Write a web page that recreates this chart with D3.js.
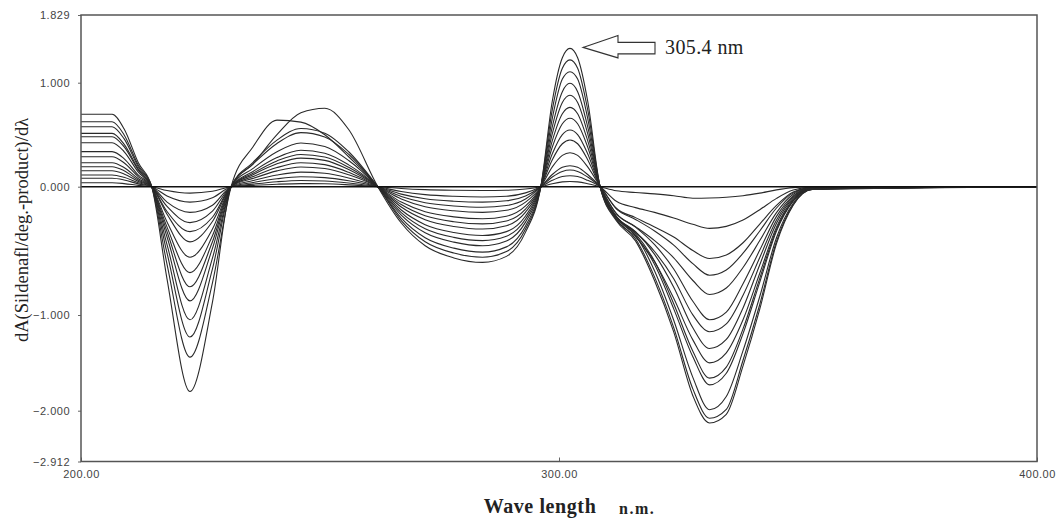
<!DOCTYPE html>
<meta charset="utf-8">
<style>
    html, body { margin: 0; padding: 0; background: #fff; }
    .tick text { font-family: "Liberation Sans", Arial, sans-serif; font-size: 11px; fill: #444; letter-spacing: 0.5px; }
</style>
<script src="https://d3js.org/d3.v7.min.js"></script>

<div id="chart"></div>

<script>
    // wavelength grid (nm) shared by all derivative curves
    const wavelength = [200, 206.5, 209, 212, 214.8, 218, 222.8, 227.5, 231.4, 236, 241, 246, 251, 256, 262.1,
        267, 272, 278, 284, 289, 293, 296.2, 298.6, 300.7, 302.3, 303.9, 306, 308.6,
        312, 316, 320, 324, 328, 331.5, 335, 338.5, 342, 345.5, 349, 353, 400];

    // dA/dλ, one array per curve (smallest to largest)
    const c01 = [0.038,0.038,0.030,0.013,0, -0.03,-0.05,-0.036, 0, 0.013,0.024,0.03,0.028,0.018, 0, -0.014,-0.023,-0.028,-0.03,-0.028,-0.018, 0, 0.029,0.046,0.05,0.046,0.029, 0, -0.032,-0.045,-0.056,-0.07,-0.09,-0.088,-0.082,-0.07,-0.05,-0.025,-0.007,0, 0];
    const c02 = [0.081,0.081,0.065,0.027,0, -0.072,-0.12,-0.086, 0, 0.025,0.048,0.06,0.055,0.036, 0, -0.038,-0.062,-0.075,-0.08,-0.074,-0.048, 0, 0.061,0.098,0.106,0.098,0.061, 0, -0.114,-0.163,-0.2,-0.244,-0.293,-0.325,-0.309,-0.26,-0.179,-0.091,-0.026,-0.003, 0];
    const c03 = [0.113,0.113,0.09,0.037,0, -0.12,-0.2,-0.144, 0, 0.04,0.076,0.095,0.087,0.057, 0, -0.058,-0.094,-0.113,-0.12,-0.11,-0.072, 0, 0.093,0.147,0.16,0.147,0.093, 0, -0.168,-0.241,-0.314,-0.392,-0.498,-0.56,-0.532,-0.437,-0.291,-0.146,-0.042,-0.006, 0];
    const c04 = [0.154,0.154,0.123,0.051,0, -0.154,-0.28,-0.19, 0, 0.059,0.112,0.14,0.129,0.084, 0, -0.077,-0.125,-0.15,-0.16,-0.147,-0.096, 0, 0.117,0.186,0.202,0.186,0.117, 0, -0.173,-0.255,-0.345,-0.455,-0.6,-0.69,-0.649,-0.518,-0.345,-0.166,-0.048,-0.007, 0];
    const c05 = [0.192,0.192,0.154,0.063,0, -0.193,-0.35,-0.238, 0, 0.08,0.152,0.19,0.175,0.114, 0, -0.096,-0.156,-0.188,-0.2,-0.184,-0.12, 0, 0.19,0.301,0.327,0.301,0.19, 0, -0.21,-0.311,-0.42,-0.554,-0.731,-0.84,-0.79,-0.63,-0.42,-0.202,-0.059,-0.008, 0];
    const c06 = [0.231,0.231,0.185,0.076,0, -0.215,-0.43,-0.271, 0, 0.097,0.184,0.23,0.212,0.138, 0, -0.12,-0.195,-0.235,-0.25,-0.23,-0.15, 0, 0.26,0.413,0.449,0.413,0.26, 0, -0.21,-0.315,-0.452,-0.641,-0.893,-1.05,-0.977,-0.756,-0.494,-0.231,-0.071,-0.011, 0];
    const c07 = [0.288,0.288,0.23,0.095,0, -0.275,-0.55,-0.33, 0, 0.116,0.22,0.275,0.253,0.165, 0, -0.139,-0.226,-0.273,-0.29,-0.267,-0.174, 0, 0.316,0.501,0.545,0.501,0.316, 0, -0.235,-0.353,-0.505,-0.717,-0.999,-1.175,-1.093,-0.846,-0.552,-0.259,-0.08,-0.012, 0];
    const c08 = [0.337,0.337,0.27,0.111,0, -0.315,-0.67,-0.382, 0, 0.13,0.248,0.31,0.285,0.186, 0, -0.158,-0.257,-0.31,-0.33,-0.304,-0.198, 0, 0.382,0.605,0.658,0.605,0.382, 0, -0.23,-0.351,-0.527,-0.783,-1.134,-1.35,-1.256,-0.945,-0.608,-0.284,-0.089,-0.014, 0];
    const c09 = [0.423,0.423,0.338,0.14,0, -0.351,-0.78,-0.429, 0, 0.147,0.28,0.35,0.322,0.21, 0, -0.182,-0.296,-0.357,-0.38,-0.35,-0.228, 0, 0.443,0.702,0.763,0.702,0.443, 0, -0.255,-0.39,-0.585,-0.87,-1.26,-1.5,-1.395,-1.05,-0.675,-0.315,-0.099,-0.015, 0];
    const c10 = [0.481,0.481,0.385,0.159,0, -0.392,-0.89,-0.481, 0, 0.176,0.336,0.42,0.386,0.252, 0, -0.202,-0.328,-0.395,-0.42,-0.386,-0.252, 0, 0.51,0.81,0.88,0.81,0.51, 0, -0.232,-0.365,-0.581,-0.913,-1.378,-1.66,-1.544,-1.145,-0.714,-0.332,-0.108,-0.017, 0];
    const c11 = [0.513,0.513,0.41,0.169,0, -0.452,-1.05,-0.557, 0, 0.218,0.416,0.52,0.478,0.312, 0, -0.221,-0.359,-0.432,-0.46,-0.423,-0.276, 0, 0.577,0.914,0.994,0.914,0.577, 0, -0.242,-0.381,-0.606,-0.952,-1.436,-1.73,-1.609,-1.194,-0.744,-0.346,-0.112,-0.017, 0];
    const c12 = [0.577,0.577,0.462,0.19,0, -0.517,-1.23,-0.64, 0, 0.235,0.448,0.56,0.515,0.336, 0, -0.245,-0.398,-0.479,-0.51,-0.469,-0.306, 0, 0.658,1.044,1.135,1.044,0.658, 0, -0.239,-0.378,-0.657,-1.055,-1.652,-1.99,-1.851,-1.373,-0.856,-0.398,-0.129,-0.02, 0];
    const c13 = [0.625,0.625,0.5,0.206,0, -0.605,-1.44,-0.749, 0, 0.384,0.64,0.621,0.499,0.288, 0, -0.264,-0.429,-0.517,-0.55,-0.506,-0.33, 0, 0.742,1.178,1.28,1.178,0.742, 0, -0.256,-0.406,-0.705,-1.132,-1.772,-2.135,-1.986,-1.473,-0.918,-0.427,-0.139,-0.021, 0];
    const c14 = [0.696,0.696,0.557,0.23,0, -0.72,-1.8,-0.9, 0, 0.22,0.5,0.71,0.754,0.55, 0, -0.283,-0.46,-0.555,-0.59,-0.543,-0.354, 0, 0.824,1.306,1.42,1.306,0.824, 0, -0.266,-0.422,-0.733,-1.177,-1.843,-2.22,-2.065,-1.532,-0.955,-0.444,-0.144,-0.022, 0];
    const curves = [c01, c02, c03, c04, c05, c06, c07, c08, c09, c10, c11, c12, c13, c14];

    // axis ticks as printed on the original
    const xTicks = [200, 300, 400];
    const yTicks = [1.829, 1.000, 0.000, -1.000, -2.000, -2.912];
    const peakWl = 302.3, peakVal = 1.42, peakLabel = "305.4 nm";

    const W = 1063, H = 519;
    const plotLeft = 81, plotRight = 1037, plotTop = 15, plotBottom = 461.5;

    const svg = d3.select("#chart")
      .append("svg")
        .attr("width", W)
        .attr("height", H)
        .style("display", "block");

    const x = d3.scaleLinear().domain([200, 400]).range([plotLeft, plotRight]);
    // the printed y labels are not evenly spaced, so the scale follows them piecewise
    const y = d3.scaleLinear()
        .domain([-2.912, -2, -1, 0, 1, 1.829])
        .range([plotBottom, 410.7, 315, 186.7, 82.7, plotTop]);

    // curves
    const line = d3.line()
        .x((d, i) => x(wavelength[i]))
        .y(d => y(d))
        .curve(d3.curveMonotoneX);

    svg.append("g")
      .selectAll("path")
      .data(curves)
      .join("path")
        .attr("d", line)
        .attr("fill", "none")
        .attr("stroke", "#2a2a2a")
        .attr("stroke-width", 1.1);

    // zero line across the plot
    svg.append("line")
        .attr("x1", x(200)).attr("x2", x(400))
        .attr("y1", y(0)).attr("y2", y(0))
        .attr("stroke", "#111")
        .attr("stroke-width", 1.4);

    // axes
    const yAxis = svg.append("g")
        .attr("transform", `translate(${plotLeft},0)`)
        .call(d3.axisLeft(y).tickValues(yTicks).tickFormat(d3.format(".3f")).tickSize(3).tickPadding(8));
    yAxis.select(".domain").remove();
    yAxis.selectAll(".tick line").attr("stroke", "#666");

    const xAxis = svg.append("g")
        .attr("transform", `translate(0,${plotBottom})`)
        .call(d3.axisBottom(x).tickValues(xTicks).tickFormat(d3.format(".2f")).tickSize(0).tickPadding(9));
    xAxis.select(".domain").remove();
    xAxis.selectAll(".tick")
      .append("line")
        .attr("y1", 0).attr("y2", -4)
        .attr("stroke", "#666");

    // frame
    svg.append("rect")
        .attr("x", plotLeft).attr("y", plotTop)
        .attr("width", plotRight - plotLeft).attr("height", plotBottom - plotTop)
        .attr("fill", "none")
        .attr("stroke", "#555")
        .attr("stroke-width", 1.5);

    // axis titles
    const serif = "'Liberation Serif', 'Times New Roman', serif";
    svg.append("text")
        .attr("x", 540).attr("y", 513)
        .attr("text-anchor", "middle")
        .style("font-family", serif)
        .style("font-weight", "bold")
        .style("font-size", "20px")
        .style("letter-spacing", "0.6px")
        .attr("fill", "#222")
        .text("Wave length");
    svg.append("text")
        .attr("x", 619).attr("y", 514)
        .style("font-family", serif)
        .style("font-weight", "bold")
        .style("font-size", "16px")
        .style("letter-spacing", "1.5px")
        .attr("fill", "#222")
        .text("n.m.");

    svg.append("text")
        .attr("transform", "translate(28,230) rotate(-90)")
        .attr("text-anchor", "middle")
        .style("font-family", serif)
        .style("font-size", "18.5px")
        .attr("fill", "#222")
        .text("dA(Sildenafl/deg.-product)/dλ");

    // arrow pointing at the 305.4 nm peak
    const ax = x(peakWl) + 13, ay = y(peakVal) - 1;
    const arrow = [[ax, ay], [ax + 35, ay - 12], [ax + 35, ay - 5], [ax + 72, ay - 5],
                   [ax + 72, ay + 6.5], [ax + 35, ay + 6.5], [ax + 35, ay + 10.5]];
    svg.append("path")
        .attr("d", d3.line()(arrow) + "Z")
        .attr("fill", "#fff")
        .attr("stroke", "#333")
        .attr("stroke-width", 1.1);
    svg.append("text")
        .attr("x", ax + 82).attr("y", ay + 7)
        .style("font-family", serif)
        .style("font-size", "20px")
        .style("letter-spacing", "0.4px")
        .attr("fill", "#222")
        .text(peakLabel);
</script>
